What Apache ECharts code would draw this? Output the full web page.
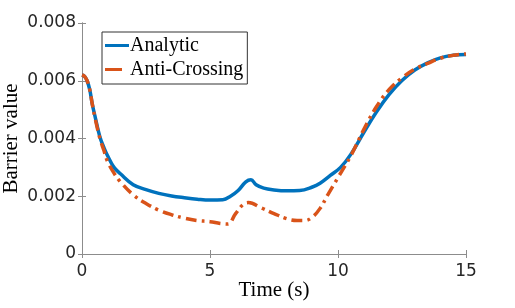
<!DOCTYPE html>
<html>
<head>
<meta charset="utf-8">
<script src="https://cdn.jsdelivr.net/npm/echarts@6/dist/echarts.min.js"></script>
<style>
  html, body { margin: 0; padding: 0; background: #fff; }
  #chart { width: 515px; height: 308px; }
</style>
</head>
<body>
<div id="chart"></div>
<script>
// data
const tAnalytic = [0, 0.1, 0.2, 0.3, 0.4, 0.5, 0.7, 0.85, 1.0, 1.25, 1.5, 2.0, 2.5, 3.0, 3.5, 4.0, 4.5, 5.0, 5.5, 5.8, 6.1, 6.4, 6.6, 6.8, 7.1, 7.5, 8.0, 8.5, 9.0, 9.3, 9.7, 10.1, 10.5, 11.0, 11.5, 12.0, 12.5, 13.0, 13.5, 14.0, 14.5, 15.0];
const analytic = [0.0062, 0.00615, 0.006, 0.0057, 0.0052, 0.0048, 0.00405, 0.0037, 0.0034, 0.003, 0.00278, 0.0024, 0.00223, 0.0021, 0.00201, 0.00195, 0.0019, 0.00187, 0.00188, 0.002, 0.0022, 0.0025, 0.00257, 0.0024, 0.00228, 0.00222, 0.00219, 0.0022, 0.00232, 0.00245, 0.00272, 0.0030, 0.00345, 0.0042, 0.00492, 0.00553, 0.00601, 0.00637, 0.00662, 0.00679, 0.00688, 0.00691];

const tAnti = [0, 0.1, 0.2, 0.3, 0.4, 0.5, 0.7, 0.85, 1.0, 1.25, 1.5, 2.0, 2.5, 3.0, 3.5, 4.0, 4.5, 5.0, 5.4, 5.7, 6.0, 6.3, 6.5, 7.0, 7.5, 8.0, 8.4, 8.7, 9.0, 9.3, 9.6, 10.0, 10.5, 11.0, 11.5, 12.0, 12.5, 13.0, 13.5, 14.0, 14.5, 15.0];
const antiCrossing = [0.0062, 0.00615, 0.006, 0.0057, 0.0052, 0.00475, 0.004, 0.0036, 0.0032, 0.0028, 0.0025, 0.00205, 0.00175, 0.00152, 0.00136, 0.00124, 0.00116, 0.00112, 0.00106, 0.00104, 0.0014, 0.00172, 0.00178, 0.0016, 0.0014, 0.00122, 0.00116, 0.00116, 0.00128, 0.00158, 0.00205, 0.00265, 0.0034, 0.0043, 0.0051, 0.0057, 0.0061, 0.0064, 0.0066, 0.00678, 0.00688, 0.00693];

const xTicks = [0, 5, 10, 15];
const yTicks = [0, 0.002, 0.004, 0.006, 0.008];

const pairs = (xs, ys) => xs.map((x, i) => [x, ys[i]]);

const axisGray = '#8c8c8c';
const textDark = '#262626';
const serif = 'Liberation Serif';

const chart = echarts.init(document.getElementById('chart'));

const option = {
  animation: false,
  grid: { left: 82, right: 49, top: 23, bottom: 54, outerBoundsMode: 'none', containLabel: false },
  legend: {
    orient: 'vertical',
    left: 102,
    top: 32,
    padding: [3, 4, 4, 3],
    itemWidth: 24,
    itemHeight: 3,
    itemGap: 3,
    borderColor: '#333',
    borderWidth: 1,
    backgroundColor: '#fff',
    textStyle: { fontFamily: serif, fontSize: 20, lineHeight: 21, color: '#000', padding: [0, 0, 0, -4] },
    data: [
      { name: 'Analytic', icon: 'path://M0,0H24V3H0Z' },
      { name: 'Anti-Crossing', icon: 'path://M0,0H17V3H0Z M23.8,1.4H24V1.6H23.8Z' }
    ]
  },
  xAxis: [
    {
      type: 'value',
      min: 0, max: 15, interval: 5,
      name: 'Time (s)',
      nameLocation: 'middle',
      nameGap: 26,
      nameMoveOverlap: false,
      nameTextStyle: { fontFamily: serif, fontSize: 21, color: '#000' },
      axisLine: { show: true, lineStyle: { color: axisGray, width: 1 } },
      axisTick: { show: true, inside: true, length: 4, lineStyle: { color: axisGray } },
      axisLabel: {
        fontFamily: 'DejaVu Sans', fontSize: 17, color: textDark, margin: 9,
        formatter: v => xTicks.includes(v) ? String(v) : ''
      },
      splitLine: { show: false }
    },
    {
      type: 'value', position: 'top',
      min: 0, max: 15, interval: 5,
      axisLine: { show: true, lineStyle: { color: axisGray, width: 1 } },
      axisTick: { show: true, inside: true, length: 4, lineStyle: { color: axisGray } },
      axisLabel: { show: false },
      splitLine: { show: false }
    }
  ],
  yAxis: [
    {
      type: 'value',
      min: 0, max: 0.008, interval: 0.002,
      name: 'Barrier value',
      nameLocation: 'middle',
      nameGap: 60,
      nameRotate: 90,
      nameMoveOverlap: false,
      nameTextStyle: { fontFamily: serif, fontSize: 21, color: '#000' },
      axisLine: { show: true, lineStyle: { color: axisGray, width: 1 } },
      axisTick: { show: true, inside: true, length: 4, lineStyle: { color: axisGray } },
      axisLabel: {
        fontFamily: 'DejaVu Sans', fontSize: 17, color: textDark, margin: 6,
        formatter: v => {
          const t = yTicks.find(y => Math.abs(y - v) < 1e-9);
          if (t === undefined) return '';
          return t === 0 ? '0' : t.toFixed(3);
        }
      },
      splitLine: { show: false }
    },
    {
      type: 'value', position: 'right',
      min: 0, max: 0.008, interval: 0.002,
      axisLine: { show: true, lineStyle: { color: axisGray, width: 1 } },
      axisTick: { show: true, inside: true, length: 4, lineStyle: { color: axisGray } },
      axisLabel: { show: false },
      splitLine: { show: false }
    }
  ],
  series: [
    {
      name: 'Analytic',
      type: 'line',
      data: pairs(tAnalytic, analytic),
      smooth: 0.4,
      symbol: 'none',
      color: '#0072BD',
      lineStyle: { color: '#0072BD', width: 3.5 },
      z: 2
    },
    {
      name: 'Anti-Crossing',
      type: 'line',
      data: pairs(tAnti, antiCrossing),
      smooth: 0.4,
      symbol: 'none',
      color: '#D95319',
      lineStyle: { color: '#D95319', width: 3.5, type: [11, 5, 3, 5] },
      z: 3
    }
  ]
};

chart.setOption(option);
</script>
</body>
</html>
